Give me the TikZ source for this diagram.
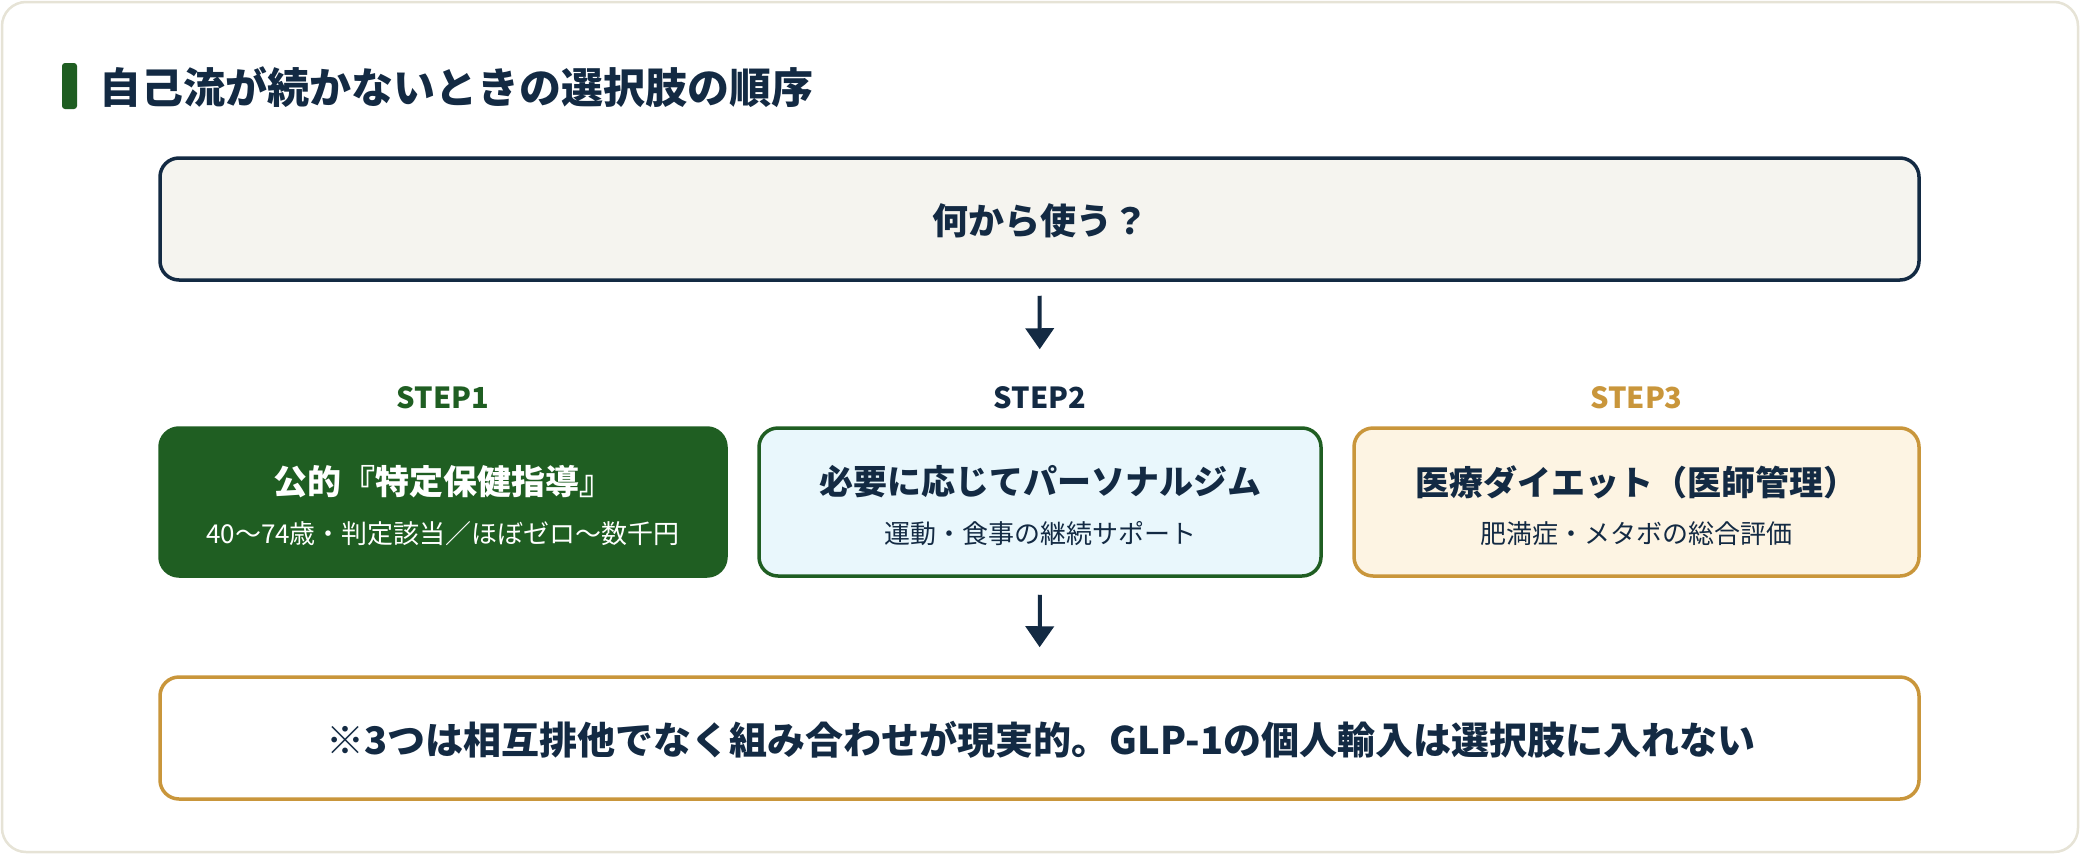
\documentclass[tikz,border=0pt]{standalone}
\usepackage{fontspec}
\setmainfont{Noto Sans CJK JP}
\usetikzlibrary{arrows.meta}
\definecolor{navy}{HTML}{132A43}
\definecolor{dgreen}{HTML}{1F5E22}
\definecolor{gold}{HTML}{C9963B}
\definecolor{lblue}{HTML}{E9F7FC}
\definecolor{cream}{HTML}{FDF4E3}
\definecolor{paper}{HTML}{F5F4EF}
\definecolor{frame}{HTML}{E6E3D6}
\newcommand{\fs}[1]{\fontsize{#1}{#1}\selectfont}
\tikzset{
  box/.style={rectangle, rounded corners=19pt, line width=3.5pt, inner sep=0pt},
  steplab/.style={font=\fs{29}\bfseries, inner sep=0pt},
  boxtitle/.style={font=\fs{34}\bfseries, inner sep=0pt},
  boxsub/.style={font=\fs{26}, inner sep=0pt},
  arr/.style={draw=navy, line width=4pt, -{Triangle[width=28pt,length=21pt]}},
}
\begin{document}
\begin{tikzpicture}[x=1pt,y=-1pt]
\useasboundingbox (0,0) rectangle (2080,854);
\draw[frame, fill=white, line width=2.5pt, rounded corners=24pt] (2,2) rectangle (2078,852);
% title
\fill[dgreen, rounded corners=3pt] (62,63) rectangle (77,109);
\node[anchor=west, inner sep=0pt, text=navy, font=\fs{42}\bfseries] (title) at (99,87) {自己流が続かないときの選択肢の順序};
% top box
\node[box, draw=navy, fill=paper, minimum width=1759pt, minimum height=122pt] (top) at (1039.5,219) {};
\node[text=navy, font=\fs{36}\bfseries, inner sep=0pt] (q) at (1040,221) {何から使う？};
% step labels
\node[steplab, text=dgreen] (l1) at (443,398) {STEP1};
\node[steplab, text=navy] (l2) at (1040,398) {STEP2};
\node[steplab, text=gold] (l3) at (1636.5,398) {STEP3};
% step boxes
\node[box, draw=dgreen, fill=dgreen, minimum width=566pt, minimum height=148pt] (b1) at (443,502) {};
\node[box, draw=dgreen, fill=lblue, minimum width=562pt, minimum height=148pt] (b2) at (1040,502) {};
\node[box, draw=gold, fill=cream, minimum width=565pt, minimum height=148pt] (b3) at (1636.5,502) {};
\node[boxtitle, text=white] (t1) at (443,482) {公的『特定保健指導』};
\node[boxsub, text=white] (s1) at (443,534) {40〜74歳・判定該当／ほぼゼロ〜数千円};
\node[boxtitle, text=navy] (t2) at (1040,482) {必要に応じてパーソナルジム};
\node[boxsub, text=navy] (s2) at (1040,534) {運動・食事の継続サポート};
\node[boxtitle, text=navy] (t3) at (1636.5,482) {医療ダイエット（医師管理）};
\node[boxsub, text=navy] (s3) at (1636.5,534) {肥満症・メタボの総合評価};
% bottom box
\node[box, draw=gold, fill=white, minimum width=1759pt, minimum height=122pt] (bot) at (1039.5,738) {};
\node[text=navy, font=\fs{38}\bfseries, inner sep=0pt] (note) at (1041,740) {※3つは相互排他でなく組み合わせが現実的。GLP-1の個人輸入は選択肢に入れない};
% arrows
\draw[arr, shorten <=14pt, shorten >=77pt] (top.south) -- (b2.north);
\draw[arr, shorten <=17pt, shorten >=28pt] (b2.south) -- (bot.north);
\end{tikzpicture}
\end{document}
